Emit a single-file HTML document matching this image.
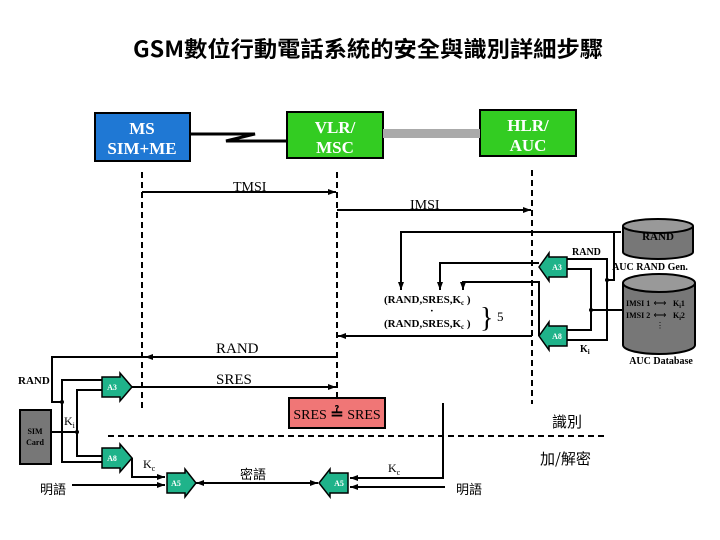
<!DOCTYPE html>
<html><head><meta charset="utf-8"><style>
html,body{margin:0;padding:0;background:#fff}
svg{display:block}
text{font-family:"Liberation Serif","Noto Serif CJK SC",serif}
.cjk{font-family:"Noto Sans CJK TC","WenQuanYi Zen Hei",sans-serif}
</style></head><body>
<svg width="720" height="540" viewBox="0 0 720 540" xmlns="http://www.w3.org/2000/svg">
<defs>
<marker id="a" markerWidth="8" markerHeight="6" refX="8" refY="3" orient="auto" markerUnits="userSpaceOnUse"><path d="M0,0 L8,3 L0,6 z" fill="#000"/></marker>
<marker id="b" markerWidth="8" markerHeight="6" refX="0" refY="3" orient="auto" markerUnits="userSpaceOnUse"><path d="M8,0 L0,3 L8,6 z" fill="#000"/></marker>
</defs>
<text x="133" y="57" font-size="22" font-weight="bold" class="cjk" textLength="470" lengthAdjust="spacingAndGlyphs">GSM數位行動電話系統的安全與識別詳細步驟</text>

<!-- top boxes -->
<rect x="95" y="113" width="95" height="48" fill="#1f78d4" stroke="#000" stroke-width="2"/>
<text x="142" y="134" font-size="17" fill="#fff" text-anchor="middle" font-weight="bold">MS</text>
<text x="142" y="154" font-size="17" fill="#fff" text-anchor="middle" font-weight="bold">SIM+ME</text>
<rect x="287" y="112" width="96" height="46" fill="#33cc22" stroke="#000" stroke-width="2"/>
<text x="335" y="133" font-size="17" fill="#fff" text-anchor="middle" font-weight="bold">VLR/</text>
<text x="335" y="153" font-size="17" fill="#fff" text-anchor="middle" font-weight="bold">MSC</text>
<rect x="480" y="110" width="96" height="46" fill="#33cc22" stroke="#000" stroke-width="2"/>
<text x="528" y="131" font-size="17" fill="#fff" text-anchor="middle" font-weight="bold">HLR/</text>
<text x="528" y="151" font-size="17" fill="#fff" text-anchor="middle" font-weight="bold">AUC</text>
<rect x="383" y="129" width="97" height="9" fill="#aaa"/>
<path d="M190,134 L255,134 L226,141 L287,141" fill="none" stroke="#000" stroke-width="3"/>

<!-- dashed verticals -->
<g stroke="#000" stroke-width="2" stroke-dasharray="6,4" fill="none">
<line x1="142" y1="172" x2="142" y2="408"/>
<line x1="337" y1="172" x2="337" y2="405"/>
<line x1="532" y1="170" x2="532" y2="404"/>
<line x1="108" y1="436" x2="606" y2="436"/>
</g>
<g stroke="#000" stroke-width="2" fill="none">
<line x1="142" y1="192" x2="336" y2="192" marker-end="url(#a)"/>
<line x1="337" y1="210" x2="531" y2="210" marker-end="url(#a)"/>
<!-- AUC side -->
<polyline points="621,232 401,232 401,290" marker-end="url(#a)"/>
<polyline points="614,232 614,280 607,280"/>
<polyline points="567,259 607,259 607,340 567,340"/>
<polyline points="567,269 591,269 591,330 567,330"/>
<line x1="591" y1="310" x2="623" y2="310"/>
<polyline points="539,263 440,263 440,290" marker-end="url(#a)"/>
<polyline points="539,336 539,282 463,282 463,290" marker-end="url(#a)"/>
<line x1="532" y1="336" x2="338" y2="336" marker-end="url(#a)"/>
<!-- MS side -->
<line x1="337" y1="357" x2="145" y2="357" marker-end="url(#a)"/>
<polyline points="145,357 52,357 52,402 62,402"/>
<polyline points="102,380 62,380 62,462 102,462"/>
<polyline points="102,390 77,390 77,456 102,456"/>
<line x1="52" y1="432" x2="77" y2="432"/>
<line x1="132" y1="387" x2="336" y2="387" marker-end="url(#a)"/>
<polyline points="132,458 132,477 165,477" marker-end="url(#a)"/>
<line x1="72" y1="485" x2="165" y2="485" marker-end="url(#a)"/>
<line x1="196" y1="483" x2="318" y2="483" marker-start="url(#b)" marker-end="url(#a)"/>
<polyline points="443,403 443,478 350,478" marker-end="url(#a)"/>
<line x1="445" y1="487" x2="350" y2="487" marker-end="url(#a)"/>
</g>
<g fill="#000">
<circle cx="607" cy="280" r="2"/><circle cx="591" cy="310" r="2"/>
<circle cx="62" cy="402" r="2"/><circle cx="77" cy="432" r="2"/>
</g>

<!-- cylinders -->
<path d="M623,226 L623,252 A35,7 0 0 0 693,252 L693,226" fill="#777" stroke="#000" stroke-width="2"/>
<ellipse cx="658" cy="226" rx="35" ry="7" fill="#999" stroke="#000" stroke-width="2"/>
<text x="658" y="240" font-size="11" font-weight="bold" text-anchor="middle">RAND</text>
<text x="650" y="270" font-size="10" font-weight="bold" text-anchor="middle">AUC RAND Gen.</text>
<path d="M623,283 L623,345 A36,9 0 0 0 695,345 L695,283" fill="#777" stroke="#000" stroke-width="2"/>
<ellipse cx="659" cy="283" rx="36" ry="9" fill="#999" stroke="#000" stroke-width="2"/>
<text x="626" y="306" font-size="8" font-weight="bold">IMSI 1</text>
<text x="626" y="318" font-size="8" font-weight="bold">IMSI 2</text>
<text x="673" y="306" font-size="8" font-weight="bold">K<tspan font-size="6" dy="2">i</tspan><tspan dy="-2">1</tspan></text>
<text x="673" y="318" font-size="8" font-weight="bold">K<tspan font-size="6" dy="2">i</tspan><tspan dy="-2">2</tspan></text>
<text x="660" y="306" font-size="9" text-anchor="middle">⟷</text>
<text x="660" y="318" font-size="9" text-anchor="middle">⟷</text>
<text x="660" y="328" font-size="8" text-anchor="middle">⋮</text>
<text x="661" y="364" font-size="10" font-weight="bold" text-anchor="middle">AUC Database</text>

<!-- A boxes -->
<g fill="#1fb38a" stroke="#000" stroke-width="1.5">
<path d="M567,257 L567,277 L549,277 L549,281 L539,267 L549,253 L549,257 z"/>
<path d="M567,326 L567,346 L549,346 L549,350 L539,336 L549,322 L549,326 z"/>
<path d="M102,377 L120,377 L120,373 L132,387 L120,401 L120,397 L102,397 z"/>
<path d="M102,448 L120,448 L120,444 L132,458 L120,472 L120,468 L102,468 z"/>
<path d="M167,473 L185,473 L185,469 L196,483 L185,497 L185,493 L167,493 z"/>
<path d="M348,473 L348,493 L330,493 L330,497 L319,483 L330,469 L330,473 z"/>
</g>
<g fill="#fff" font-size="8" font-weight="bold" text-anchor="middle">
<text x="557" y="270">A3</text><text x="557" y="339">A8</text>
<text x="112" y="390">A3</text><text x="112" y="461">A8</text>
<text x="176" y="486">A5</text><text x="339" y="486">A5</text>
</g>

<!-- labels -->
<text x="233" y="191" font-size="14">TMSI</text>
<text x="410" y="209" font-size="14">IMSI</text>
<text x="572" y="255" font-size="10" font-weight="bold">RAND</text>
<text x="580" y="352" font-size="10" font-weight="bold">K<tspan font-size="7" dy="2">i</tspan></text>
<text x="384" y="303" font-size="11" font-weight="bold">(RAND,SRES,K<tspan font-size="7" dy="2">c</tspan><tspan dy="-2"> )</tspan></text>
<text x="430" y="314" font-size="11" font-weight="bold">·</text>
<text x="384" y="327" font-size="11" font-weight="bold">(RAND,SRES,K<tspan font-size="7" dy="2">c</tspan><tspan dy="-2"> )</tspan></text>
<text x="480" y="327" font-size="28">}</text>
<text x="497" y="321" font-size="13">5</text>
<text x="216" y="353" font-size="15">RAND</text>
<text x="216" y="384" font-size="15">SRES</text>
<text x="18" y="384" font-size="11" font-weight="bold">RAND</text>
<rect x="20" y="410" width="31" height="54" fill="#777" stroke="#000" stroke-width="2"/>
<text x="35" y="434" font-size="8" font-weight="bold" text-anchor="middle">SIM</text>
<text x="35" y="445" font-size="8" font-weight="bold" text-anchor="middle">Card</text>
<text x="64" y="425" font-size="12">K<tspan font-size="8" dy="3">i</tspan></text>
<text x="143" y="468" font-size="12">K<tspan font-size="8" dy="3">c</tspan></text>
<text x="388" y="472" font-size="12">K<tspan font-size="8" dy="3">c</tspan></text>
<rect x="289" y="398" width="96" height="30" fill="#f07676" stroke="#000" stroke-width="2"/>
<text x="337" y="419" font-size="14" text-anchor="middle">SRES <tspan font-weight="bold" font-size="16">≟</tspan> SRES</text>
<text x="552" y="427" font-size="15" class="cjk">識別</text>
<text x="540" y="464" font-size="15" class="cjk">加/解密</text>
<text x="40" y="494" font-size="13" class="cjk">明語</text>
<text x="240" y="479" font-size="13" class="cjk">密語</text>
<text x="456" y="494" font-size="13" class="cjk">明語</text>
</svg>
</body></html>
